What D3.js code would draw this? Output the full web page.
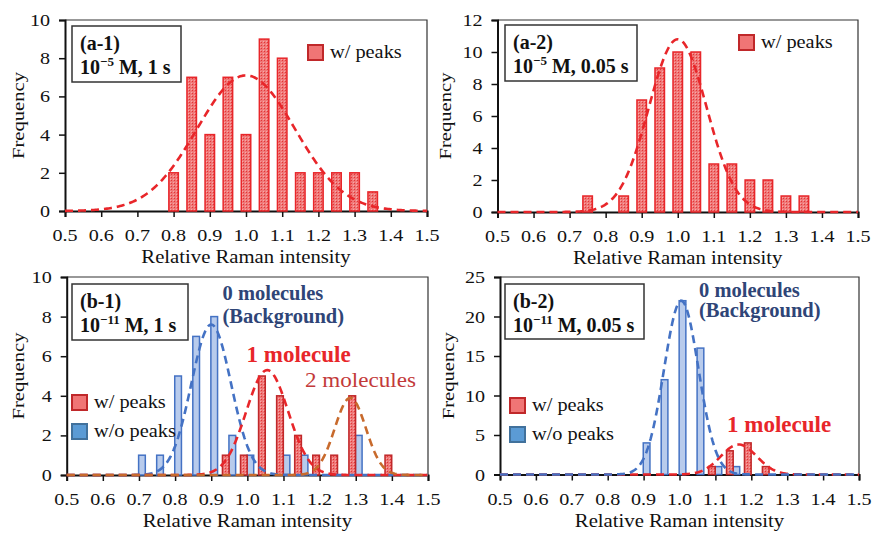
<!DOCTYPE html>
<html><head><meta charset="utf-8">
<script src="https://cdn.jsdelivr.net/npm/d3@7/dist/d3.min.js"></script>
<style>body{margin:0;background:#fff}svg{display:block}</style>
</head><body><svg id="c" width="872" height="535"></svg>
<script>
// ---------- data ----------
const xTickValues = [0.5,0.6,0.7,0.8,0.9,1.0,1.1,1.2,1.3,1.4,1.5];
const xTickLabels = ["0.5","0.6","0.7","0.8","0.9","1.0","1.1","1.2","1.3","1.4","1.5"];
const xTitle = "Relative Raman intensity";
const yTitle = "Frequency";

const a1Bins   = [0.80,0.85,0.90,0.95,1.00,1.05,1.10,1.15,1.20,1.25,1.30,1.35];
const a1Counts = [2,7,4,7,4,9,8,2,2,2,2,1];
const a1Fit    = [7.1, 1.00, 0.135];   // amplitude, mean, sigma
const a1YTicks = [0,2,4,6,8,10];

const a2Bins   = [0.75,0.85,0.90,0.95,1.00,1.05,1.10,1.15,1.20,1.25,1.30,1.35];
const a2Counts = [1,1,7,9,10,10,3,3,2,2,1,1];
const a2Fit    = [10.8, 1.00, 0.08];
const a2YTicks = [0,2,4,6,8,10,12];

const b1WithBins      = [0.95,1.00,1.05,1.10,1.15,1.20,1.25,1.30,1.40];
const b1WithCounts    = [1,1,5,4,2,1,1,4,1];
const b1WithoutBins   = [0.70,0.75,0.80,0.85,0.90,0.95,1.00,1.10,1.15,1.30];
const b1WithoutCounts = [1,1,5,7,8,2,1,1,1,2];
const b1Fit0 = [7.6, 0.90, 0.055];
const b1Fit1 = [5.3, 1.055, 0.058];
const b1Fit2 = [3.9, 1.285, 0.043];
const b1YTicks = [0,2,4,6,8,10];

const b2WithBins      = [1.10,1.15,1.20,1.25];
const b2WithCounts    = [1,3,4,1];
const b2WithoutBins   = [0.90,0.95,1.00,1.05,1.10,1.15];
const b2WithoutCounts = [4,12,22,16,1,1];
const b2Fit0 = [22, 1.005, 0.048];
const b2Fit1 = [3.8, 1.165, 0.05];
const b2YTicks = [0,5,10,15,20,25];

const legendWith = "w/ peaks", legendWithout = "w/o peaks";

// ---------- drawing ----------
const FONT = "'Liberation Serif', 'Times New Roman', Tinos, serif";
const svg = d3.select("#c").attr("font-family", FONT);
const defs = svg.append("defs");
const pat = defs.append("pattern").attr("id","redpat").attr("patternUnits","userSpaceOnUse")
  .attr("width",3).attr("height",3);
pat.append("rect").attr("width",3).attr("height",3).attr("fill","#f07878");
pat.append("rect").attr("x",0).attr("y",0).attr("width",1).attr("height",1).attr("fill","#e23636");
pat.append("rect").attr("x",2).attr("y",2).attr("width",1).attr("height",1).attr("fill","#f6a8a8");

function txt(g, x, y, s, o={}) {
  const t = g.append("text")
    .attr("transform", `translate(${x},${y}) rotate(${o.rot||0}) scale(${o.sx||1},1)`)
    .attr("text-anchor", o.anchor||"start")
    .style("font-family", FONT)
    .attr("font-size", o.size||18)
    .attr("font-weight", o.weight||"normal")
    .attr("fill", o.fill||"#111");
  t.text(s);
  return t;
}

function panel(L) {
  const g = svg.append("g");
  const x = d3.scaleLinear().domain([0.5,1.5]).range([L.x0, L.x1]);
  const y = d3.scaleLinear().domain([0, L.yMax]).range([L.yb, L.yt]);
  g.append("path").attr("d", `M${L.x0},${L.yt}H${L.x1}V${L.yb}`).attr("fill","none")
    .attr("stroke","#333").attr("stroke-width",1.2);
  const xa = g.append("g").attr("transform",`translate(0,${L.yb})`)
    .call(d3.axisBottom(x).tickValues(xTickValues).tickSize(6).tickFormat(""));
  const ya = g.append("g").attr("transform",`translate(${L.x0},0)`)
    .call(d3.axisLeft(y).tickValues(L.yTicks).tickSize(6).tickFormat(""));
  [xa,ya].forEach(a=>{a.select(".domain").attr("stroke","#111").attr("stroke-width",2);
    a.selectAll(".tick line").attr("stroke","#111").attr("stroke-width",1.5);});
  xTickValues.forEach((v,i)=>txt(g, x(v), L.yb+30, xTickLabels[i], {anchor:"middle", size:17.5, sx:1.15}));
  L.yTicks.forEach(v=>txt(g, L.x0-15, y(v)+6, String(v), {anchor:"end", size:17.5, sx:1.15}));
  txt(g, (L.x0+L.x1)/2, L.yb+52, xTitle, {anchor:"middle", size:18.5, sx:1.12});
  txt(g, L.fx, (L.yt+L.yb)/2, yTitle, {anchor:"middle", size:17.5, sx:1.18, rot:-90});
  return {g, x, y};
}

function bars(P, bins, counts, w, off, fill, stroke) {
  P.g.append("g").selectAll("rect").data(bins).join("rect")
    .attr("x", (d)=>P.x(d)+off-w/2)
    .attr("width", w)
    .attr("y", (d,i)=>P.y(counts[i]))
    .attr("height", (d,i)=>P.y(0)-P.y(counts[i]))
    .attr("fill", fill).attr("stroke", stroke).attr("stroke-width",1.5);
}

function fit(P, prm, color) {
  const [A,m,s] = prm;
  const pts = d3.range(0.5, 1.5001, 0.004).map(v=>[v, A*Math.exp(-((v-m)**2)/(2*s*s))]);
  P.g.append("path").attr("d", d3.line().x(d=>P.x(d[0])).y(d=>P.y(d[1]))(pts))
    .attr("fill","none").attr("stroke",color).attr("stroke-width",2.6)
    .attr("stroke-dasharray","8,5");
}

function labelBox(P, bx, by, bw, bh, l1, exp, rest) {
  P.g.append("rect").attr("x",bx).attr("y",by).attr("width",bw).attr("height",bh)
    .attr("fill","#fff").attr("stroke","#333").attr("stroke-width",1.5);
  txt(P.g, bx+8, by+24, l1, {size:20, weight:"bold"});
  const t = txt(P.g, bx+8, by+48, "", {size:20, weight:"bold"});
  t.append("tspan").text("10");
  t.append("tspan").attr("dy",-8).attr("font-size",13).text(exp);
  t.append("tspan").attr("dy",8).text(rest);
}

function legendItem(P, lx, ly, fill, stroke, label) {
  P.g.append("rect").attr("x",lx).attr("y",ly).attr("width",15).attr("height",15)
    .attr("fill",fill).attr("stroke",stroke).attr("stroke-width",2);
  txt(P.g, lx+22, ly+13, label, {size:18.5, sx:1.1});
}

const RED = "#e8262a", BLUE = "#4472c4", ORANGE = "#c86a2c";

// (a-1)
const A1 = panel({x0:65, x1:427, yt:20, yb:211, yMax:10, yTicks:a1YTicks, fx:24});
bars(A1, a1Bins, a1Counts, 9.5, 0, "url(#redpat)", RED);
fit(A1, a1Fit, RED);
labelBox(A1, 72, 26, 109, 56, "(a-1)", "\u22125", " M, 1 s");
legendItem(A1, 308, 45, "#f07575", "#c0282a", legendWith);

// (a-2)
const A2 = panel({x0:497.5, x1:858, yt:20, yb:212, yMax:12, yTicks:a2YTicks, fx:451});
bars(A2, a2Bins, a2Counts, 9.5, 0, "url(#redpat)", RED);
fit(A2, a2Fit, RED);
labelBox(A2, 505, 25, 132, 56, "(a-2)", "\u22125", " M, 0.05 s");
legendItem(A2, 739, 35, "#f07575", "#c0282a", legendWith);

// (b-1)
const B1 = panel({x0:66.7, x1:428, yt:277, yb:475, yMax:10, yTicks:b1YTicks, fx:24});
bars(B1, b1WithoutBins, b1WithoutCounts, 6.7, 3, "#b8cbec", BLUE);
bars(B1, b1WithBins, b1WithCounts, 6.7, -3.5, "url(#redpat)", "#c0282a");
fit(B1, b1Fit0, BLUE);
fit(B1, b1Fit1, RED);
fit(B1, b1Fit2, ORANGE);
labelBox(B1, 72, 284, 116, 56, "(b-1)", "\u221211", " M, 1 s");
legendItem(B1, 72, 395, "#f07575", "#c0282a", legendWith);
legendItem(B1, 72, 424, "#5b9bd5", "#41719c", legendWithout);
txt(B1.g, 222.5, 300, "0 molecules", {size:20.5, weight:"bold", fill:"#2f4577"});
txt(B1.g, 222.5, 323, "(Background)", {size:20.5, weight:"bold", fill:"#2f4577"});
txt(B1.g, 246.5, 362, "1 molecule", {size:23, weight:"bold", fill:RED});
txt(B1.g, 305, 387, "2 molecules", {size:21, sx:1.1, fill:"#c33a3a"});

// (b-2)
const B2 = panel({x0:500, x1:859, yt:277, yb:474.5, yMax:25, yTicks:b2YTicks, fx:454});
bars(B2, b2WithoutBins, b2WithoutCounts, 6.7, 3, "#b8cbec", BLUE);
bars(B2, b2WithBins, b2WithCounts, 6.7, -3.5, "url(#redpat)", "#c0282a");
fit(B2, b2Fit1, RED);
fit(B2, b2Fit0, BLUE);
labelBox(B2, 505, 284, 139, 55, "(b-2)", "\u221211", " M, 0.05 s");
legendItem(B2, 510, 398, "#f07575", "#c0282a", legendWith);
legendItem(B2, 510, 427, "#5b9bd5", "#41719c", legendWithout);
txt(B2.g, 699, 297, "0 molecules", {size:20.5, weight:"bold", fill:"#2f4577"});
txt(B2.g, 699, 317, "(Background)", {size:20.5, weight:"bold", fill:"#2f4577"});
txt(B2.g, 727, 432, "1 molecule", {size:23, weight:"bold", fill:RED});
</script></body></html>
